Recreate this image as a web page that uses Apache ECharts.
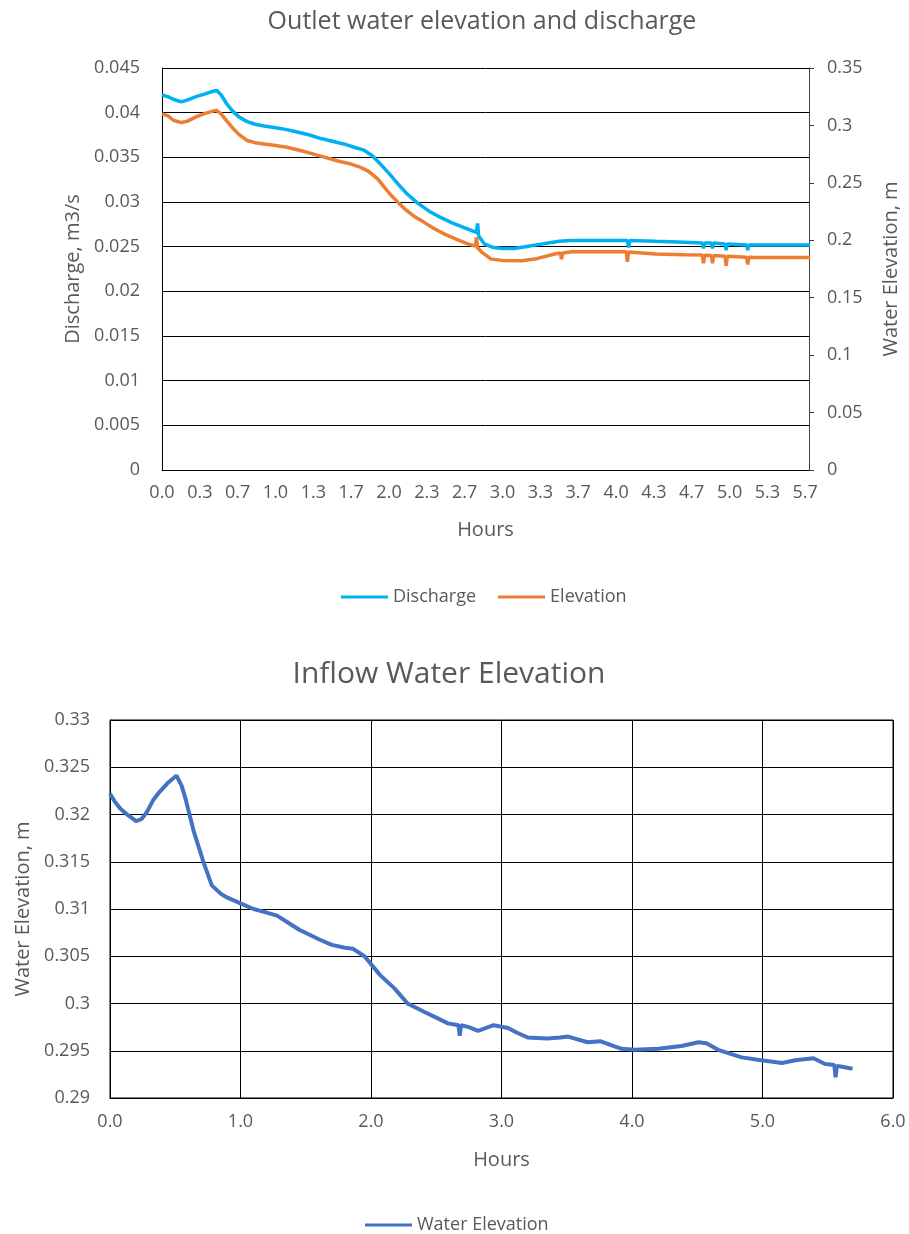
<!DOCTYPE html>
<html>
<head>
<meta charset="utf-8">
<script src="https://cdn.jsdelivr.net/npm/echarts@6/dist/echarts.min.js"></script>
<style>
html,body{margin:0;padding:0;background:#fff;}
#chart{width:909px;height:1234px;}
</style>
</head>
<body>
<div id="chart"></div>
<script>
// ---- Top chart: Outlet water elevation and discharge ----
const dischargeHours = [0.00,0.05,0.10,0.17,0.22,0.30,0.38,0.45,0.48,0.52,0.57,0.62,0.68,0.75,0.82,0.90,1.00,1.10,1.20,1.30,1.40,1.50,1.60,1.70,1.78,1.85,1.92,2.00,2.08,2.16,2.25,2.35,2.45,2.55,2.65,2.73,2.77,2.78,2.79,2.84,2.92,3.00,3.10,3.20,3.30,3.40,3.50,3.60,3.80,4.00,4.10,4.11,4.12,4.35,4.60,4.76,4.77,4.78,4.84,4.85,4.86,4.96,4.97,4.98,5.15,5.16,5.17,5.40,5.71];
const dischargeValues = [0.0420,0.0418,0.0415,0.0412,0.0414,0.0418,0.0421,0.0424,0.0425,0.0420,0.0410,0.0402,0.0395,0.0390,0.0387,0.0385,0.0383,0.0381,0.0378,0.0375,0.0371,0.0368,0.0365,0.0361,0.0358,0.0352,0.0343,0.0332,0.0320,0.0309,0.0299,0.0290,0.0283,0.0277,0.0272,0.0268,0.0266,0.0276,0.0262,0.0253,0.0249,0.0248,0.0248,0.0250,0.0252,0.0254,0.0256,0.0257,0.0257,0.0257,0.0257,0.0249,0.0257,0.0256,0.0255,0.0254,0.0248,0.0254,0.0254,0.0248,0.0254,0.0253,0.0246,0.0253,0.0252,0.0246,0.0252,0.0252,0.0252];
const elevationHours = [0.00,0.05,0.10,0.17,0.22,0.30,0.38,0.45,0.48,0.52,0.57,0.62,0.68,0.75,0.82,0.90,1.00,1.10,1.22,1.32,1.43,1.55,1.66,1.75,1.82,1.90,1.96,2.02,2.08,2.14,2.22,2.31,2.40,2.49,2.60,2.70,2.76,2.77,2.78,2.82,2.90,3.00,3.17,3.30,3.46,3.51,3.52,3.53,3.61,4.06,4.09,4.10,4.11,4.35,4.60,4.76,4.77,4.78,4.84,4.85,4.86,4.96,4.97,4.98,5.15,5.16,5.17,5.23,5.71];
const elevationValues = [0.3100,0.3085,0.3045,0.3025,0.3035,0.3075,0.3105,0.3125,0.3131,0.3100,0.3040,0.2980,0.2920,0.2869,0.2850,0.2838,0.2825,0.2810,0.2782,0.2755,0.2724,0.2690,0.2665,0.2635,0.2600,0.2534,0.2460,0.2389,0.2330,0.2272,0.2210,0.2156,0.2100,0.2054,0.2005,0.1967,0.1950,0.2025,0.1935,0.1894,0.1836,0.1825,0.1822,0.1840,0.1880,0.1890,0.1836,0.1890,0.1900,0.1900,0.1900,0.1813,0.1898,0.1880,0.1874,0.1871,0.1800,0.1870,0.1868,0.1800,0.1867,0.1862,0.1778,0.1860,0.1853,0.1790,0.1852,0.1851,0.1851];
const topXLabelsInterval = 1 / 3;

// ---- Bottom chart: Inflow Water Elevation ----
const inflowHours = [0.00,0.04,0.08,0.14,0.20,0.24,0.28,0.33,0.38,0.44,0.49,0.51,0.55,0.58,0.64,0.72,0.78,0.85,0.90,1.00,1.10,1.18,1.28,1.36,1.45,1.51,1.60,1.70,1.80,1.86,1.95,2.07,2.18,2.28,2.41,2.50,2.59,2.67,2.68,2.69,2.75,2.82,2.94,3.05,3.12,3.20,3.35,3.45,3.51,3.66,3.76,3.92,4.02,4.20,4.38,4.51,4.57,4.66,4.84,4.99,5.15,5.25,5.39,5.48,5.55,5.56,5.57,5.61,5.69];
const inflowValues = [0.3222,0.3213,0.3206,0.3199,0.3193,0.3195,0.3202,0.3215,0.3224,0.3233,0.3239,0.3241,0.3230,0.3216,0.3183,0.3148,0.3125,0.3116,0.3112,0.3106,0.3100,0.3097,0.3093,0.3086,0.3078,0.3074,0.3068,0.3062,0.3059,0.3058,0.3050,0.3030,0.3016,0.3000,0.2991,0.2985,0.2979,0.2977,0.2966,0.2977,0.2975,0.2971,0.2977,0.2974,0.2969,0.2964,0.2963,0.2964,0.2965,0.2959,0.2960,0.2952,0.2951,0.2952,0.2955,0.2959,0.2958,0.2951,0.2943,0.2940,0.2937,0.2940,0.2942,0.2936,0.2935,0.2922,0.2934,0.2933,0.2931];

const pairs = (xs, ys) => xs.map((x, i) => [x, ys[i]]);
const FONT = '"Open Sans", sans-serif';
const GREY = '#595959';
const numFmt = v => String(Number(v.toFixed(4)));

const chart = echarts.init(document.getElementById('chart'), null, {renderer: 'canvas'});
chart.setOption({
  animation: false,
  backgroundColor: '#fff',
  textStyle: {fontFamily: FONT},
  title: [
    {text: 'Outlet water elevation and discharge', left: 477, top: 4, textAlign: 'center',
     textStyle: {fontFamily: FONT, fontSize: 25, fontWeight: 'normal', color: GREY}},
    {text: 'Inflow Water Elevation', left: 444, top: 654, textAlign: 'center',
     textStyle: {fontFamily: FONT, fontSize: 30, fontWeight: 'normal', color: GREY}}
  ],
  legend: [
    {data: ['Discharge', 'Elevation'], left: 336, top: 583, icon: 'rect', itemWidth: 47, itemHeight: 3, itemGap: 22,
     textStyle: {fontFamily: FONT, fontSize: 18, color: GREY}},
    {data: ['Water Elevation'], left: 360, top: 1211, icon: 'rect', itemWidth: 47, itemHeight: 3,
     textStyle: {fontFamily: FONT, fontSize: 18, color: GREY}}
  ],
  grid: [
    {left: 162, top: 68, width: 647, height: 402, containLabel: false},
    {left: 110, top: 720, width: 783, height: 378, containLabel: false, show: true, borderColor: '#000', borderWidth: 1}
  ],
  xAxis: [
    {gridIndex: 0, type: 'value', min: 0, max: 5.7, interval: topXLabelsInterval,
     name: 'Hours', nameLocation: 'middle', nameGap: 50,
     nameTextStyle: {fontFamily: FONT, fontSize: 20, color: GREY},
     axisLine: {show: true, lineStyle: {color: '#000', width: 1}},
     axisTick: {show: false}, splitLine: {show: false},
     axisLabel: {formatter: v => v.toFixed(1), showMaxLabel: false, margin: 14, fontFamily: FONT, fontSize: 18, color: GREY}},
    {gridIndex: 1, type: 'value', min: 0, max: 6, interval: 1,
     name: 'Hours', nameLocation: 'middle', nameGap: 52,
     nameTextStyle: {fontFamily: FONT, fontSize: 20, color: GREY},
     axisLine: {show: true, lineStyle: {color: '#000', width: 1}},
     axisTick: {show: false},
     splitLine: {show: true, lineStyle: {color: '#000', width: 1}},
     axisLabel: {formatter: v => v.toFixed(1), margin: 15, fontFamily: FONT, fontSize: 18, color: GREY}}
  ],
  yAxis: [
    {gridIndex: 0, type: 'value', min: 0, max: 0.045, interval: 0.005, position: 'left',
     name: 'Discharge, m3/s', nameLocation: 'middle', nameGap: 76,
     nameTextStyle: {fontFamily: FONT, fontSize: 20, color: GREY},
     axisLine: {show: true, lineStyle: {color: '#000', width: 1}},
     axisTick: {show: false},
     splitLine: {show: true, lineStyle: {color: '#000', width: 1}},
     axisLabel: {formatter: numFmt, margin: 22, fontFamily: FONT, fontSize: 18, color: GREY}},
    {gridIndex: 0, type: 'value', min: 0, max: 0.35, interval: 0.05, position: 'right',
     name: 'Water Elevation, m', nameLocation: 'middle', nameGap: 72,
     nameTextStyle: {fontFamily: FONT, fontSize: 20, color: GREY},
     axisLine: {show: true, lineStyle: {color: '#404040', width: 1}},
     axisTick: {show: true, inside: false, length: 5, lineStyle: {color: '#404040'}},
     splitLine: {show: false},
     axisLabel: {formatter: numFmt, margin: 18, fontFamily: FONT, fontSize: 18, color: GREY}},
    {gridIndex: 1, type: 'value', min: 0.29, max: 0.33, interval: 0.005,
     name: 'Water Elevation, m', nameLocation: 'middle', nameGap: 74,
     nameTextStyle: {fontFamily: FONT, fontSize: 20, color: GREY},
     axisLine: {show: true, lineStyle: {color: '#000', width: 1}},
     axisTick: {show: false},
     splitLine: {show: true, lineStyle: {color: '#000', width: 1}},
     axisLabel: {formatter: numFmt, margin: 20, fontFamily: FONT, fontSize: 18, color: GREY}}
  ],
  series: [
    {name: 'Discharge', type: 'line', xAxisIndex: 0, yAxisIndex: 0, data: pairs(dischargeHours, dischargeValues),
     symbol: 'none', lineStyle: {color: '#00B0F0', width: 3.5}, itemStyle: {color: '#00B0F0'}},
    {name: 'Elevation', type: 'line', xAxisIndex: 0, yAxisIndex: 1, data: pairs(elevationHours, elevationValues),
     symbol: 'none', lineStyle: {color: '#ED7D31', width: 3.5}, itemStyle: {color: '#ED7D31'}},
    {name: 'Water Elevation', type: 'line', xAxisIndex: 1, yAxisIndex: 2, data: pairs(inflowHours, inflowValues),
     symbol: 'none', lineStyle: {color: '#4472C4', width: 4}, itemStyle: {color: '#4472C4'}}
  ]
});
</script>
</body>
</html>
